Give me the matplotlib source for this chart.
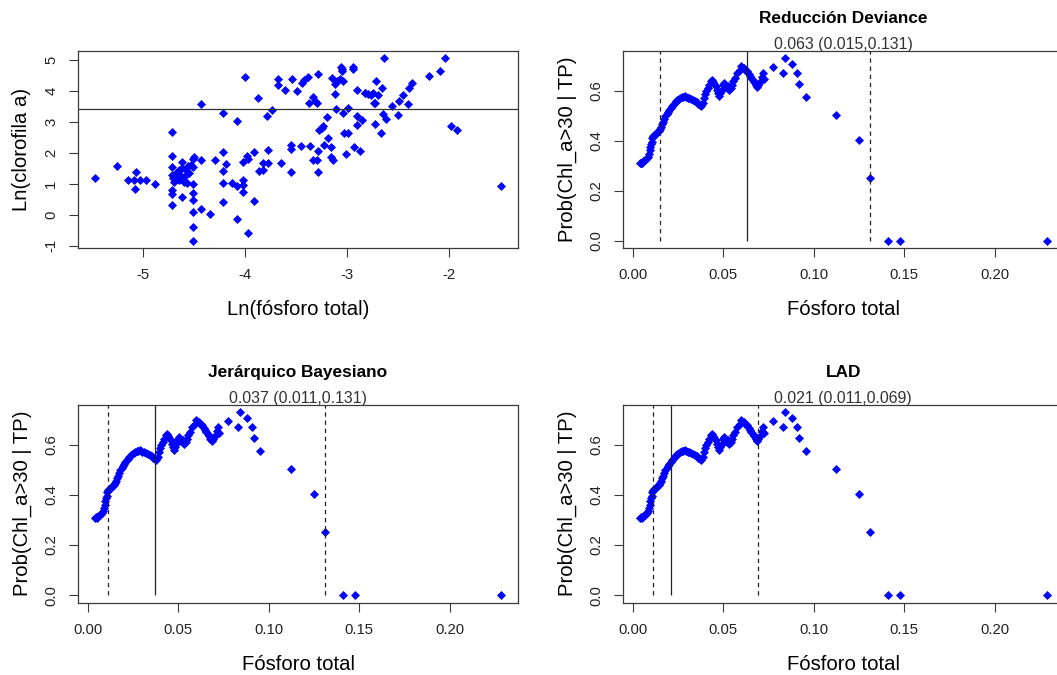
import numpy as np
import matplotlib
matplotlib.use('Agg')
import matplotlib.pyplot as plt
from matplotlib.ticker import FormatStrFormatter

plt.rcParams['font.family'] = ['Liberation Sans', 'DejaVu Sans']
plt.rcParams['axes.unicode_minus'] = False

# --- data ---
# top-left scatter: ln(total phosphorus) vs ln(chlorophyll a)
ln_tp = [-5.47, -5.25, -5.14, -5.08, -5.03, -4.97, -5.06, -5.07, -4.88,
         -4.71, -4.71, -4.71, -4.71, -4.70, -4.69, -4.71, -4.71, -4.71,
         -4.67, -4.64, -4.61, -4.61, -4.58, -4.59, -4.64, -4.60, -4.56, -4.61,
         -4.66, -4.62, -4.57, -4.55,
         -4.53, -4.50, -4.51, -4.51, -4.51, -4.51, -4.51, -4.51, -4.51, -4.51,
         -4.43, -4.43, -4.43, -4.34, -4.29,
         -4.21, -4.21, -4.18, -4.21, -4.21, -4.21,
         -4.00, -4.08, -3.87, -3.78, -3.73, -3.68, -3.68, -3.61, -3.54,
         -3.49, -3.44, -3.42, -3.38, -3.37, -3.33, -3.31, -3.29, -3.28,
         -3.15, -3.12, -3.10, -3.07, -3.04, -3.06, -3.05, -3.05, -2.94,
         -2.94, -3.12, -3.11, -3.04, -2.99, -2.90, -2.82, -2.80,
         -3.20, -3.27, -3.25, -3.24, -3.19, -3.23, -3.16, -3.16, -3.14,
         -3.03, -2.99, -2.90, -2.85, -2.90, -2.93, -2.87, -3.01, -3.28,
         -3.28, -3.33, -3.29, -3.55, -3.55, -3.45, -3.36, -3.55, -3.65,
         -3.77, -3.82, -3.77, -3.86, -3.82, -3.91,
         -4.02, -3.98, -3.97, -4.13, -4.08, -4.02, -4.02, -4.02, -3.91,
         -4.08, -3.97,
         -2.64, -2.04, -2.09, -2.20, -2.72, -2.66, -2.82, -2.77, -2.75,
         -2.70, -2.74, -2.73, -2.56, -2.49, -2.45, -2.40, -2.39, -2.36,
         -2.65, -2.62, -2.50, -2.73, -2.67, -1.98, -1.92, -1.49]
ln_chl = [1.19, 1.57, 1.12, 1.12, 1.12, 1.12, 1.37, 0.82, 0.99,
          2.67, 1.89, 1.54, 1.27, 1.20, 1.06, 0.79, 0.66, 0.31,
          1.35, 1.44, 1.52, 1.70, 1.44, 1.24, 1.12, 1.06, 1.57, 0.58,
          1.30, 1.25, 1.02, 1.34,
          1.60, 1.87, 1.81, 1.54, 0.99, 0.71, 0.47, 0.10, -0.39, -0.84,
          1.76, 3.58, 0.20, 0.02, 1.76,
          3.29, 2.03, 1.65, 1.40, 1.03, 0.41,
          4.44, 3.02, 3.78, 3.19, 3.39, 4.39, 4.17, 4.01, 4.39,
          3.99, 4.25, 4.36, 4.44, 3.60, 3.80, 3.67, 3.60, 4.53,
          4.42, 4.23, 4.31, 4.39, 4.31, 4.78, 4.71, 4.63, 4.78,
          4.71, 3.88, 3.42, 3.28, 3.45, 4.01, 3.93, 3.88,
          3.15, 2.72, 2.81, 2.85, 2.49, 2.24, 2.17, 1.87, 1.78,
          2.64, 2.64, 3.17, 3.06, 2.91, 2.19, 2.06, 1.95, 2.06,
          1.38, 1.76, 1.78, 2.24, 2.11, 2.22, 2.22, 1.38, 1.67,
          2.10, 1.67, 1.67, 1.41, 1.46, 2.03,
          1.70, 1.88, 1.81, 1.03, 0.92, 1.11, 0.95, 0.74, 0.44,
          -0.15, -0.60,
          5.06, 5.06, 4.63, 4.46, 4.30, 4.09, 3.93, 3.85, 3.93,
          3.85, 3.61, 3.61, 3.50, 3.67, 3.85, 3.58, 4.09, 4.26,
          3.26, 3.08, 3.23, 2.92, 2.64, 2.85, 2.74, 0.92]
chl_threshold = 30

# other panels: P(Chl_a > 30 | TP)
prob_tp = [0.0037, 0.0045, 0.0052, 0.0058, 0.0065, 0.0072, 0.0080, 0.0086, 0.0090,
           0.0093, 0.0096, 0.0099, 0.0103, 0.0107, 0.0112, 0.0119, 0.0127, 0.0135,
           0.0142, 0.0150, 0.0156, 0.0161, 0.0167, 0.0173, 0.0180, 0.0186, 0.0193,
           0.0200, 0.0208, 0.0215, 0.0222, 0.0230, 0.0238, 0.0246, 0.0254, 0.0262,
           0.0270, 0.0278, 0.0286, 0.0294, 0.0302, 0.0312, 0.0322, 0.0332, 0.0342,
           0.0352, 0.0362, 0.0370, 0.0378, 0.0385, 0.0392, 0.0399, 0.0406, 0.0414,
           0.0422, 0.0430, 0.0436, 0.0443, 0.0450, 0.0457, 0.0464, 0.0470, 0.0477,
           0.0484, 0.0490, 0.0497, 0.0504, 0.0511, 0.0518, 0.0525, 0.0532, 0.0540,
           0.0548, 0.0556, 0.0565, 0.0575, 0.0590, 0.0600, 0.0612, 0.0622, 0.0632,
           0.0640, 0.0648, 0.0655, 0.0662, 0.0670, 0.0678, 0.0686, 0.0694, 0.0702,
           0.0712, 0.0718, 0.0727, 0.0777, 0.0832, 0.0842, 0.0878, 0.0908, 0.0917,
           0.0954, 0.1123, 0.1249, 0.1313, 0.1409, 0.1477, 0.2287]
prob_chl30 = [0.310, 0.312, 0.310, 0.318, 0.322, 0.326, 0.330, 0.335, 0.348,
              0.362, 0.375, 0.388, 0.395, 0.412, 0.420, 0.424, 0.428, 0.434,
              0.440, 0.447, 0.456, 0.466, 0.476, 0.488, 0.500, 0.508, 0.515,
              0.522, 0.530, 0.538, 0.545, 0.552, 0.560, 0.565, 0.568, 0.572,
              0.575, 0.577, 0.580, 0.576, 0.572, 0.570, 0.566, 0.563, 0.558,
              0.555, 0.548, 0.542, 0.538, 0.552, 0.570, 0.588, 0.600, 0.612,
              0.622, 0.640, 0.645, 0.636, 0.626, 0.618, 0.603, 0.590, 0.580,
              0.590, 0.602, 0.625, 0.630, 0.622, 0.612, 0.618, 0.603, 0.612,
              0.622, 0.640, 0.650, 0.672, 0.685, 0.698, 0.690, 0.683, 0.678,
              0.668, 0.660, 0.650, 0.642, 0.636, 0.625, 0.615, 0.622, 0.635,
              0.655, 0.672, 0.646, 0.697, 0.672, 0.732, 0.706, 0.672, 0.629,
              0.577, 0.504, 0.403, 0.253, 0.0, 0.0, 0.0]

panel_titles = ['Reducción Deviance', 'Jerárquico Bayesiano', 'LAD']
cp_best = [0.063, 0.037, 0.021]
cp_low = [0.015, 0.011, 0.011]
cp_high = [0.131, 0.131, 0.069]

W, H = 1057, 675
fig = plt.figure(figsize=(W / 100, H / 100), dpi=100)


def px_axes(l, t, r, b):
    return fig.add_axes([l / W, 1 - b / H, (r - l) / W, (b - t) / H])


def r_lim(v):
    lo, hi = min(v), max(v)
    d = 0.04 * (hi - lo)
    return lo - d, hi + d


def style(ax):
    for s in ax.spines.values():
        s.set_color('#3a3a3a')
        s.set_linewidth(0.9)
    ax.tick_params(direction='out', length=6.5, width=0.8, color='#3a3a3a',
                   labelsize=10.7, pad=8, labelcolor='#222222')
    plt.setp(ax.get_yticklabels(), rotation=90, va='center')


def labels(ax, xl, yl):
    ax.annotate(xl, xy=(0.5, 0), xycoords='axes fraction', xytext=(0, -67),
                textcoords='offset pixels', ha='center', va='baseline', fontsize=14.6)
    ax.annotate(yl, xy=(0, 0.5), xycoords='axes fraction', xytext=(-51, 0),
                textcoords='offset pixels', ha='center', va='baseline', fontsize=14.6,
                rotation=90, rotation_mode='anchor')


mk = dict(ls='none', marker='D', color='#0000ff', ms=4.0, mew=0.5)

# top-left scatter
ax = px_axes(78.3, 50.5, 517.7, 248.2)
ax.plot(ln_tp, ln_chl, **mk)
ax.axhline(np.log(chl_threshold), color='#333333', lw=0.9)
ax.set_xlim(r_lim(ln_tp))
ax.set_ylim(r_lim(ln_chl))
ax.set_xticks([-5, -4, -3, -2])
ax.set_yticks([-1, 0, 1, 2, 3, 4, 5])
style(ax)
labels(ax, 'Ln(fósforo total)', 'Ln(clorofila a)')

# change-point panels
boxes = [(623.3, 50.5, 1063, 248.2), (78.3, 404.5, 517.7, 602.5), (623.3, 404.5, 1063, 602.5)]
for i, box in enumerate(boxes):
    ax = px_axes(*box)
    ax.plot(prob_tp, prob_chl30, **mk)
    ax.set_xlim(r_lim(prob_tp))
    ax.set_ylim(r_lim(prob_chl30))
    ax.vlines([cp_low[i], cp_high[i]], 0, 1, colors='#222222', lw=0.9, linestyles=(0, (3.5, 3)))
    ax.vlines(cp_best[i], 0, 1, colors='#222222', lw=0.9)
    ax.set_xticks([0.0, 0.05, 0.10, 0.15, 0.20])
    ax.set_yticks([0.0, 0.2, 0.4, 0.6])
    ax.xaxis.set_major_formatter(FormatStrFormatter('%.2f'))
    ax.yaxis.set_major_formatter(FormatStrFormatter('%.1f'))
    style(ax)
    labels(ax, 'Fósforo total', 'Prob(Chl_a>30 | TP)')
    ax.annotate(panel_titles[i], xy=(0.5, 1), xycoords='axes fraction', xytext=(0, 27.5),
                textcoords='offset pixels', ha='center', va='baseline',
                fontsize=12.4, fontweight='bold')
    sub = '%.3f (%.3f,%.3f)' % (cp_best[i], cp_low[i], cp_high[i])
    ax.annotate(sub, xy=(0.5, 1), xycoords='axes fraction', xytext=(0, 1.5),
                textcoords='offset pixels', ha='center', va='baseline',
                fontsize=11.4, color='#333333')

fig.savefig('out.png', dpi=100)
